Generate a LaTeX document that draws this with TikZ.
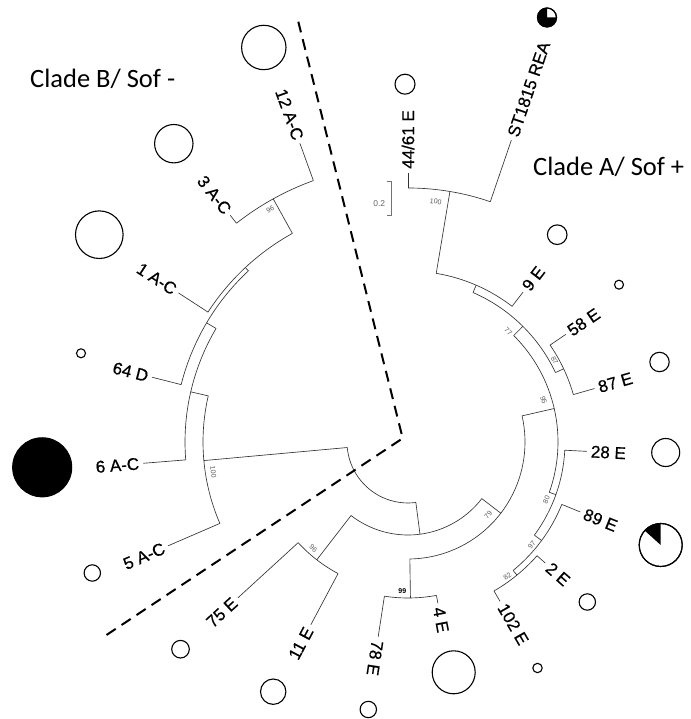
\documentclass[tikz,border=0pt]{standalone}
\usepackage{fontspec}
\setmainfont{Liberation Sans}
\newfontfamily\labfont[FakeBold=0.6]{Liberation Sans}
\newfontfamily\cladefont{Carlito}
\newcommand\TreeBranch[4]{\coordinate (#1-base) at (#2:#3);\coordinate (#1) at (#2:#4);\draw[tree] (#1-base) -- (#1);}
\newcommand\TreeArc[3]{\draw[tree] (#2:#1) arc[start angle=#2,end angle=#3,radius=#1];}
\begin{document}
\begin{tikzpicture}[x=1pt,y=1pt,
  tree/.style={line width=0.65pt, draw=black!80},
  tiplab/.style={font=\labfont\fontsize{17}{17}\selectfont, inner sep=0pt},
  boot/.style={font=\fontsize{7}{7}\selectfont, text=black!65, inner sep=0pt},
  pie/.style={circle, draw=black, line width=1.1pt, inner sep=0pt, fill=white},
  clade/.style={font=\cladefont\fontsize{26.5}{26.5}\selectfont, inner sep=0pt},
  divider/.style={line width=2pt, dash pattern=on 11pt off 7pt},
  scalebar/.style={line width=0.6pt, draw=black!55}
]
\useasboundingbox (0,0) rectangle (690,719);
\fill[white] (0,0) rectangle (690,719);

% ---------------- tree ----------------
\begin{scope}[shift={(408,277)}]
\coordinate (center) at (0,0);
% root
\TreeArc{61}{185.2}{277.4}
% clade B
\TreeBranch{nB}{185.2}{61}{205}
\TreeArc{205}{167}{203.4}
\TreeBranch{t5AC}{203.4}{205}{261.6}
\TreeBranch{n167}{167}{205}{223}
\TreeArc{223}{149.4}{184.6}
\TreeBranch{t6AC}{184.6}{223}{265.6}
\TreeBranch{n149}{149.4}{223}{234}
\TreeArc{234}{133}{165.8}
\TreeBranch{t64D}{165.8}{234}{264}
\TreeBranch{n133}{133}{234}{238.5}
\TreeArc{238.5}{119}{147}
\TreeBranch{t1AC}{147}{238.5}{273.6}
\TreeBranch{n96b}{119}{238.5}{278}
\TreeArc{278}{109.9}{128.1}
\TreeBranch{t3AC}{128.1}{278}{288}
\TreeBranch{t12AC}{109.9}{278}{317.6}
% clade A side
\TreeBranch{n93}{-82.6}{61}{93}
\TreeArc{93}{-127.75}{-37.5}
\TreeBranch{n96}{-127.75}{93}{149}
\TreeArc{149}{-137.5}{-118}
\TreeBranch{t75E}{-137.5}{149}{230.7}
\TreeBranch{t11E}{-118}{149}{207}
\TreeBranch{n79}{-37.5}{93}{117}
\TreeArc{117}{-89.1}{12.9}
\TreeBranch{n99}{-89.1}{117}{156}
\TreeArc{156}{-98.7}{-79.5}
\TreeBranch{t78E}{-98.7}{156}{197}
\TreeBranch{t4E}{-79.5}{156}{164}
\TreeBranch{n95}{12.9}{117}{150}
\TreeArc{150}{-19.6}{45.2}
\TreeBranch{n77}{45.2}{150}{163}
\TreeArc{163}{25.2}{66.5}
\TreeBranch{n87}{25.2}{163}{172}
\TreeArc{172}{16}{34.3}
\TreeBranch{t58E}{34.3}{172}{191}
\TreeBranch{t87E}{16}{172}{194}
\TreeBranch{n2}{66.5}{163}{171}
\TreeArc{171}{52.5}{80.5}
\TreeBranch{t9E}{52.5}{171}{189}
\TreeBranch{n100}{80.5}{171}{254}
\TreeArc{254}{71.1}{90}
\TreeBranch{t4461}{90}{254}{269}
\TreeBranch{tST}{71.1}{254}{319}
\TreeBranch{n80}{-19.6}{150}{157}
\TreeArc{157}{-36.4}{-3}
\TreeBranch{t28E}{-3}{157}{179}
\TreeBranch{n97}{-36.4}{157}{166}
\TreeArc{166}{-50.7}{-22.1}
\TreeBranch{t89E}{-22.1}{166}{186}
\TreeBranch{n82}{-50.7}{166}{172}
\TreeArc{172}{-60}{-41.4}
\TreeBranch{t2E}{-41.4}{172}{183}
\TreeBranch{t102E}{-60}{172}{184}

% tip labels
\node[tiplab, rotate=90, anchor=west] (l4461) at (90:273) {44/61 E};
\node[tiplab, rotate=71.1, anchor=west] (lST) at (71.1:323) {ST1815 REA};
\node[tiplab, rotate=52.5, anchor=west] (l9E) at (52.5:193) {9 E};
\node[tiplab, rotate=34.3, anchor=west] (l58E) at (34.3:195) {58 E};
\node[tiplab, rotate=16, anchor=west] (l87E) at (16:198) {87 E};
\node[tiplab, rotate=-3, anchor=west] (l28E) at (-3:183) {28 E};
\node[tiplab, rotate=-22.1, anchor=west] (l89E) at (-22.1:190) {89 E};
\node[tiplab, rotate=-41.4, anchor=west] (l2E) at (-41.4:187) {2 E};
\node[tiplab, rotate=-60, anchor=west] (l102E) at (-60:188) {102 E};
\node[tiplab, rotate=-79.5, anchor=west] (l4E) at (-79.5:168) {4 E};
\node[tiplab, rotate=-98.7, anchor=west] (l78E) at (-98.7:201) {78 E};
\node[tiplab, rotate=62, anchor=east] (l11E) at (242:211) {11 E};
\node[tiplab, rotate=42.5, anchor=east] (l75E) at (222.5:234.7) {75 E};
\node[tiplab, rotate=23.4, anchor=east] (l5AC) at (203.4:265.6) {5 A-C};
\node[tiplab, rotate=4.6, anchor=east] (l6AC) at (184.6:269.6) {6 A-C};
\node[tiplab, rotate=-14.2, anchor=east] (l64D) at (165.8:268) {64 D};
\node[tiplab, rotate=-33, anchor=east] (l1AC) at (147:277.6) {1 A-C};
\node[tiplab, rotate=-51.9, anchor=east] (l3AC) at (128.1:292) {3 A-C};
\node[tiplab, rotate=-70.1, anchor=east] (l12AC) at (109.9:321.6) {12 A-C};

% bootstrap values
\node[boot, rotate=-6.6] (b100a) at (83.4:242) {100};
\node[boot, rotate=-42.3] (b77) at (47.7:149) {77};
\node[boot, rotate=-61] (b87) at (29:167.5) {87};
\node[boot, rotate=-72.8] (b95) at (17.2:142) {95};
\node[boot, rotate=67.3] (b80) at (-22.7:150) {80};
\node[boot, rotate=50.2] (b97) at (-39.8:161) {97};
\node[boot, rotate=36.5] (b82) at (-53.5:167) {82};
\node[boot, rotate=47.7] (b79) at (-42.3:108.5) {79};
\node[boot, text=black, font=\fontsize{7}{7}\selectfont\bfseries] (b99) at (-92.2:149) {99};
\node[boot, rotate=-41.7] (b96a) at (-131.7:142.4) {96};
\node[boot, rotate=-81.3] (b100b) at (188.7:197) {100};
\node[boot, rotate=30.7] (b96b) at (120.7:270) {96};
\end{scope}

% ---------------- scale bar ----------------
\coordinate (sbtop) at (391.7,537.3);
\coordinate (sbbot) at (391.7,504);
\draw[scalebar] ([xshift=-5pt]sbtop) -- (sbtop) -- (sbbot) -- ([xshift=-5pt]sbbot);
\node[font=\fontsize{8.5}{8.5}\selectfont, text=black!60, inner sep=0pt] (sblab) at (379.3,515.7) {0.2};

% ---------------- dashed divider ----------------
\coordinate (dTop) at (298.3,697.3);
\coordinate (dMid) at (402.7,280.7);
\coordinate (dEnd) at (105,83);
\draw[divider] (dTop) -- (dMid) -- (dEnd);

% ---------------- clade titles ----------------
\node[clade, anchor=base west] (cladeB) at (30,631) {Clade B/ Sof -};
\node[clade, anchor=base west] (cladeA) at (533,543.5) {Clade A/ Sof +};

% ---------------- frequency circles ----------------
\node[pie, minimum size=44.4pt] (c12AC) at (263.8,671.5) {};
\node[pie, minimum size=38.4pt] (c3AC) at (173.8,575.3) {};
\node[pie, minimum size=47.6pt] (c1AC) at (99.3,484.3) {};
\node[pie, minimum size=9pt] (c64D) at (81,365.7) {};
\node[pie, fill=black, minimum size=59pt] (c6AC) at (42.2,251.7) {};
\node[pie, minimum size=16.4pt] (c5AC) at (92.3,146) {};
\node[pie, minimum size=17.6pt] (c75E) at (180.5,69.8) {};
\node[pie, minimum size=25.4pt] (c11E) at (273.2,27.3) {};
\node[pie, minimum size=16.4pt] (c78E) at (368.3,9.5) {};
\node[pie, minimum size=43pt] (c4E) at (453.7,46.7) {};
\node[pie, minimum size=9.4pt] (c102E) at (537.5,51) {};
\node[pie, minimum size=16.4pt] (c2E) at (587.3,117) {};
\node[pie, minimum size=43pt] (c89E) at (660.7,174) {};
\fill[black] (c89E.center) -- ++(90:21.5) arc[start angle=90,end angle=138,radius=21.5] -- cycle;
\node[pie, fill=none, minimum size=43pt] at (c89E.center) {};
\node[pie, minimum size=28pt] (c28E) at (665.7,266.5) {};
\node[pie, minimum size=19.4pt] (c87E) at (659.5,357) {};
\node[pie, minimum size=9pt] (c58E) at (619,434.3) {};
\node[pie, minimum size=19.6pt] (c9E) at (557.2,484.3) {};
\node[pie, minimum size=19pt] (cST) at (547,701.5) {};
\fill[black] (cST.center) -- ++(90:9.5) arc[start angle=90,end angle=360,radius=9.5] -- cycle;
\node[pie, fill=none, minimum size=19pt] at (cST.center) {};
\node[pie, minimum size=20pt] (c4461) at (405,634.8) {};
\end{tikzpicture}
\end{document}
